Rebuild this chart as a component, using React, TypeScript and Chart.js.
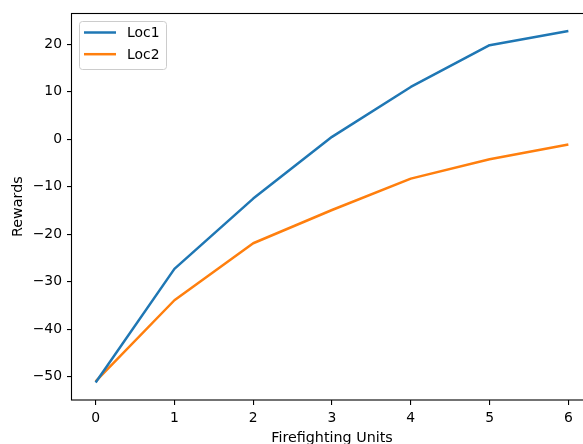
import React, { useEffect, useRef } from 'react';
import { Chart, registerables } from 'chart.js';

Chart.register(...registerables);

const units = [0, 1, 2, 3, 4, 5, 6];
const loc1 = [-51.2, -27.3, -12.5, 0.5, 11.0, 19.8, 22.8];
const loc2 = [-51.0, -33.9, -21.9, -14.9, -8.3, -4.2, -1.1];
const seriesLabels = ['Loc1', 'Loc2'];
const seriesColors = ['#1f77b4', '#ff7f0e'];
const xTicks = [0, 1, 2, 3, 4, 5, 6];
const yTicks = [-50, -40, -30, -20, -10, 0, 10, 20];
const xTitle = 'Firefighting Units';
const yTitle = 'Rewards';

const FONT = 'DejaVu Sans';
const FS = 13.9;
const TFS = 14.3;
const LW = 2.5;

const fmt = (v: number) => (v < 0 ? '\u2212' + Math.abs(v) : String(v));

const framePlugin = {
  id: 'mplFrame',
  afterDatasetsDraw(chart: any) {
    const { ctx, chartArea: a } = chart;
    ctx.save();
    ctx.strokeStyle = '#000';
    ctx.lineWidth = 1.1;
    ctx.strokeRect(Math.round(a.left) - 0.5, Math.round(a.top) + 0.5, Math.round(a.right - a.left), Math.round(a.bottom - a.top) - 0.5);
    ctx.restore();
  },
};

const legendPlugin = {
  id: 'mplLegend',
  afterDraw(chart: any) {
    const { ctx, chartArea: a } = chart;
    const x0 = Math.round(a.left) + 7;
    const y0 = Math.round(a.top) + 8;
    const w = 87;
    const h = 48;
    ctx.save();
    ctx.beginPath();
    ctx.roundRect(x0 + 0.5, y0 + 0.5, w, h, 3);
    ctx.fillStyle = 'rgba(255,255,255,0.8)';
    ctx.fill();
    ctx.strokeStyle = '#cccccc';
    ctx.lineWidth = 1;
    ctx.stroke();
    ctx.font = `${FS}px "${FONT}"`;
    ctx.textBaseline = 'middle';
    ctx.textAlign = 'left';
    chart.data.datasets.forEach((ds: any, i: number) => {
      const y = y0 + 11.5 + i * 21.7;
      ctx.beginPath();
      ctx.moveTo(x0 + 5, y);
      ctx.lineTo(x0 + 37, y);
      ctx.strokeStyle = ds.borderColor;
      ctx.lineWidth = LW;
      ctx.stroke();
      ctx.fillStyle = '#000';
      ctx.fillText(ds.label, x0 + 48, y + 1);
    });
    ctx.restore();
  },
};

export default function App() {
  const ref = useRef<HTMLCanvasElement>(null);

  useEffect(() => {
    if (!ref.current) return;
    const all = [...loc1, ...loc2];
    const yMin = Math.min(...all);
    const yMax = Math.max(...all);
    const yPad = (yMax - yMin) * 0.05;
    const xMin = Math.min(...units);
    const xMax = Math.max(...units);
    const xPad = (xMax - xMin) * 0.05;
    const series = [loc1, loc2];

    const chart = new Chart(ref.current, {
      type: 'line',
      data: {
        datasets: series.map((s, i) => ({
          label: seriesLabels[i],
          data: units.map((u, j) => ({ x: u, y: s[j] })),
          borderColor: seriesColors[i],
          backgroundColor: seriesColors[i],
          borderWidth: LW,
          pointRadius: 0,
          tension: 0,
          fill: false,
          borderJoinStyle: 'round',
        })),
      },
      options: {
        responsive: false,
        animation: false,
        devicePixelRatio: 1,
        layout: { padding: { left: 0, top: 13, right: 38, bottom: 20 } },
        plugins: {
          legend: { display: false },
          tooltip: { enabled: false },
        },
        scales: {
          x: {
            type: 'linear',
            min: xMin - xPad,
            max: xMax + xPad,
            afterBuildTicks: (s: any) => {
              s.ticks = xTicks.map((v) => ({ value: v }));
            },
            afterFit: (s: any) => {
              s.height = 50;
            },
            border: { display: false },
            grid: { drawOnChartArea: false, drawTicks: true, tickLength: 5, color: '#000', lineWidth: 1.1 },
            ticks: {
              color: '#000',
              padding: 5,
              font: { family: FONT, size: FS },
              callback: (v: any) => fmt(Number(v)),
            },
            title: {
              display: true,
              text: xTitle,
              color: '#000',
              font: { family: FONT, size: TFS },
              padding: { top: 0, bottom: 3 },
            },
          },
          y: {
            type: 'linear',
            min: yMin - yPad,
            max: yMax + yPad,
            afterBuildTicks: (s: any) => {
              s.ticks = yTicks.map((v) => ({ value: v }));
            },
            afterFit: (s: any) => {
              s.width = 72;
            },
            border: { display: false },
            grid: { drawOnChartArea: false, drawTicks: true, tickLength: 5, color: '#000', lineWidth: 1.1 },
            ticks: {
              color: '#000',
              padding: 5,
              font: { family: FONT, size: FS },
              callback: (v: any) => fmt(Number(v)),
            },
            title: {
              display: true,
              text: yTitle,
              color: '#000',
              font: { family: FONT, size: TFS },
              padding: { top: 9.5, bottom: 0 },
            },
          },
        },
      },
      plugins: [framePlugin, legendPlugin],
    });
    return () => chart.destroy();
  }, []);

  return (
    <div style={{ position: 'fixed', left: 0, top: 0, width: 583, height: 444, overflow: 'hidden', background: '#fff' }}>
      <canvas ref={ref} width={630} height={470} style={{ display: 'block', width: 630, height: 470 }} />
    </div>
  );
}
